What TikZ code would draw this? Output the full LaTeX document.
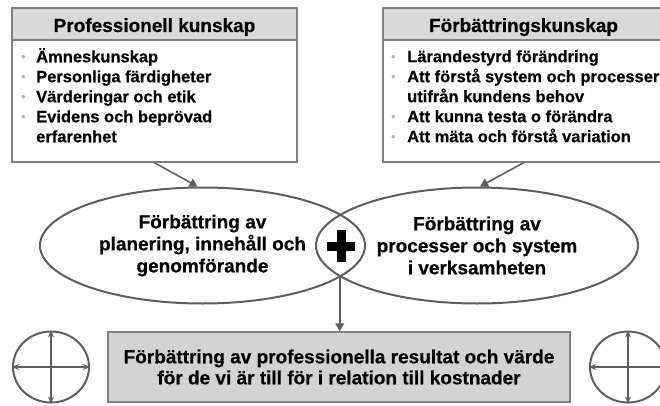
\documentclass[tikz,border=0pt]{standalone}
\usepackage{fontspec}
\setmainfont{Liberation Sans}[BoldFeatures={FakeBold=0.5}]
\usetikzlibrary{shapes.geometric,arrows.meta}

\definecolor{edgegray}{HTML}{808080}
\definecolor{linegray}{HTML}{5E5E5E}
\definecolor{headgray}{HTML}{D9D9D9}
\definecolor{resgray}{HTML}{D3D3D3}
\definecolor{dotgray}{HTML}{B4B4B4}

% small grey list marker
\newcommand{\itemdot}{\textcolor{dotgray}{\raisebox{1pt}{\fontsize{13}{13}\selectfont\mdseries\textbullet}}}

\begin{document}
\begin{tikzpicture}[x=1pt, y=-1pt, font=\bfseries,
  headbox/.style={draw=edgegray, line width=1.5pt, fill=headgray, inner sep=0pt,
    minimum height=32pt, text height=16pt, text depth=0pt,
    font=\fontsize{19}{22}\selectfont\bfseries},
  bodybox/.style={draw=edgegray, line width=1.5pt, fill=white, inner sep=0pt,
    minimum height=122pt},
  listtext/.style={anchor=north west, inner sep=0pt,
    font=\fontsize{16.5}{20}\selectfont\bfseries},
  lens/.style={ellipse, draw=linegray, line width=2pt, inner sep=0pt,
    minimum height=116pt, align=center,
    font=\fontsize{19}{22}\selectfont\bfseries},
  feed/.style={draw=linegray, line width=1.6pt,
    -{Triangle[length=8pt,width=9pt]}},
  gauge/.style={ellipse, draw=linegray, line width=2pt, inner sep=0pt,
    minimum width=76pt, minimum height=71pt},
  crossarrow/.style={draw=linegray, line width=1.8pt,
    {Stealth[length=7pt,width=6pt,inset=2.5pt]}-{Stealth[length=7pt,width=6pt,inset=2.5pt]}},
  resbox/.style={draw=edgegray, line width=1.5pt, fill=resgray, inner sep=0pt,
    minimum width=462pt, minimum height=70pt, align=center,
    font=\fontsize{19}{21}\selectfont\bfseries}
]
\useasboundingbox (0,0) rectangle (660,406);
\clip (0,0) rectangle (660,406);

% knowledge boxes
\node[bodybox, minimum width=285pt] (lbody) at (154.5,101) {};
\node[headbox, minimum width=285pt] (lhead) at (154.5,24) {Professionell kunskap};
\node[listtext] (litems) at (21,48) {%
  \begin{tabular}{@{}p{15pt}@{}l@{}}
  \itemdot & Ämneskunskap\\
  \itemdot & Personliga färdigheter\\
  \itemdot & Värderingar och etik\\
  \itemdot & Evidens och beprövad\\
           & erfarenhet
  \end{tabular}};

\node[bodybox, minimum width=281pt] (rbody) at (523.5,101) {};
\node[headbox, minimum width=281pt] (rhead) at (523.5,24) {Förbättringskunskap};
\node[listtext] (ritems) at (391,48) {%
  \begin{tabular}{@{}p{16pt}@{}l@{}}
  \itemdot & Lärandestyrd förändring\\
  \itemdot & Att förstå system och processer\\
           & utifrån kundens behov\\
  \itemdot & Att kunna testa o förändra\\
  \itemdot & Att mäta och förstå variation
  \end{tabular}};

% overlapping improvement areas
\node[lens, minimum width=325pt] (lell) at (202.5,245.5)
  {Förbättring av\\planering, innehåll och\\genomförande};
\node[lens, minimum width=322pt] (rell) at (477,245.5)
  {Förbättring av\\processer och system\\i verksamheten};

% plus sign in the overlap
\node[minimum width=28pt, minimum height=32pt, inner sep=0pt] (plus) at (341,246) {};
\fill[black] ([xshift=-4.5pt]plus.north) rectangle ([xshift=4.5pt]plus.south);
\fill[black] ([yshift=4.5pt]plus.west) rectangle ([yshift=-4.5pt]plus.east);

% result box
\node[resbox] (res) at (339,367)
  {Förbättring av professionella resultat och värde\\för de vi är till för i relation till kostnader};

% connectors
\draw[feed] (lbody.south) -- ([xshift=-5pt]lell.north);
\draw[feed] (rbody.south) -- ([xshift=3pt]rell.north);
\coordinate (meet) at (339.75,276.5);
\draw[feed] (meet) -- (meet |- res.north);

% side gauges
\node[gauge] (lgauge) at (51,367) {};
\draw[crossarrow] (lgauge.north) -- (lgauge.south);
\draw[crossarrow] (lgauge.west) -- (lgauge.east);
\node[gauge] (rgauge) at (628,367) {};
\draw[crossarrow] (rgauge.north) -- (rgauge.south);
\draw[crossarrow] (rgauge.west) -- (rgauge.east);
\end{tikzpicture}
\end{document}
